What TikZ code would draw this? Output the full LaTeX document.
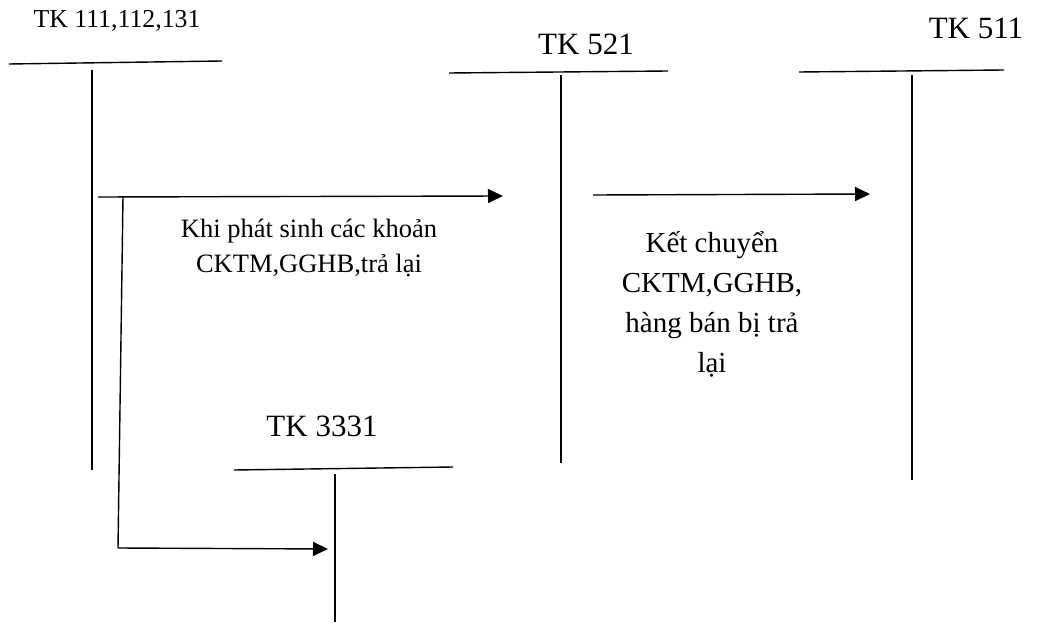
\documentclass[tikz,border=0pt]{standalone}
\usepackage{fontspec}
\setmainfont{Liberation Serif}
\usetikzlibrary{arrows.meta}
\begin{document}
\begin{tikzpicture}[x=1pt,y=-1pt,
  acc/.style={line width=1.4pt},
  flow/.style={line width=1.4pt,-{Triangle[length=15pt,width=14pt]}},
  link/.style={line width=1.4pt},
  biglbl/.style={inner sep=0pt,anchor=base,font=\fontsize{31}{36}\selectfont},
  smalllbl/.style={inner sep=0pt,anchor=base,font=\fontsize{25.8}{33}\selectfont},
  note/.style={inner sep=0pt,anchor=base,align=center,font=\fontsize{26.5}{35}\selectfont},
  bignote/.style={inner sep=0pt,anchor=base,align=center,font=\fontsize{29}{40}\selectfont}]
\useasboundingbox (0,0) rectangle (1047,623);
% account labels
\node[smalllbl] (l1) at (117,28) {TK 111,112,131};
\node[biglbl] (l521) at (586,55) {TK 521};
\node[biglbl] (l511) at (976,39) {TK 511};
\node[biglbl] (l3331) at (322,436) {TK 3331};
% T-accounts
\coordinate (a1l) at (9,64); \coordinate (a1r) at (222,61);
\coordinate (a1t) at (92,70); \coordinate (a1b) at (92,470);
\draw[acc] (a1l) -- (a1r); \draw[acc] (a1t) -- (a1b);
\coordinate (a2l) at (449,73); \coordinate (a2r) at (668,71);
\coordinate (a2t) at (561,75); \coordinate (a2b) at (561,463);
\draw[acc] (a2l) -- (a2r); \draw[acc] (a2t) -- (a2b);
\coordinate (a3l) at (799,72); \coordinate (a3r) at (1004,70);
\coordinate (a3t) at (912,75); \coordinate (a3b) at (912,480);
\draw[acc] (a3l) -- (a3r); \draw[acc] (a3t) -- (a3b);
\coordinate (a4l) at (234,470); \coordinate (a4r) at (453,467);
\coordinate (a4t) at (335,474); \coordinate (a4b) at (335,622);
\draw[acc] (a4l) -- (a4r); \draw[acc] (a4t) -- (a4b);
% flows
\coordinate (f1s) at (98,197); \coordinate (f1e) at (503,196);
\draw[flow] (f1s) -- (f1e);
\coordinate (f2s) at (593,195); \coordinate (f2e) at (870,194);
\draw[flow] (f2s) -- (f2e);
\coordinate (f3a) at (123,197); \coordinate (f3b) at (118,548); \coordinate (f3e) at (328,549);
\draw[link] (f3a) -- (f3b);
\draw[flow] (f3b) -- (f3e);
% notes (anchor = baseline of the last line)
\node[note] (n1) at (309,272) {Khi phát sinh các khoản\\CKTM,GGHB,trả lại};
\node[bignote] (n2) at (712,372) {Kết chuyển\\CKTM,GGHB,\\hàng bán bị trả\\lại};
\end{tikzpicture}
\end{document}
